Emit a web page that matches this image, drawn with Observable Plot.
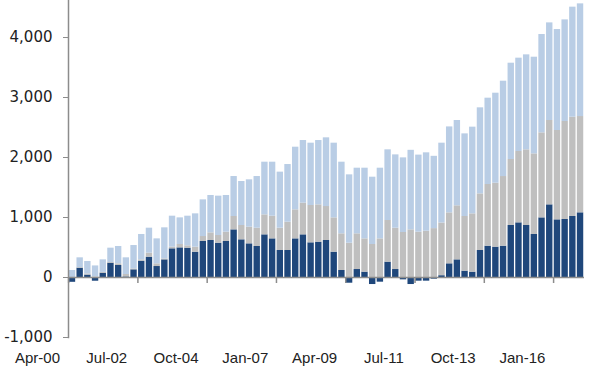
<!DOCTYPE html>
<html>
<head>
<meta charset="utf-8">
<script src="https://cdn.jsdelivr.net/npm/d3@7"></script>
<script src="https://cdn.jsdelivr.net/npm/@observablehq/plot@0.6"></script>
<style>
  html, body { margin: 0; padding: 0; background: #fff; }
  #chart svg { display: block; }
</style>
</head>
<body>
<div id="chart"></div>
<script>
const quarters = [
  "Apr-00","Jul-00","Oct-00",
  "Jan-01","Apr-01","Jul-01","Oct-01",
  "Jan-02","Apr-02","Jul-02","Oct-02",
  "Jan-03","Apr-03","Jul-03","Oct-03",
  "Jan-04","Apr-04","Jul-04","Oct-04",
  "Jan-05","Apr-05","Jul-05","Oct-05",
  "Jan-06","Apr-06","Jul-06","Oct-06",
  "Jan-07","Apr-07","Jul-07","Oct-07",
  "Jan-08","Apr-08","Jul-08","Oct-08",
  "Jan-09","Apr-09","Jul-09","Oct-09",
  "Jan-10","Apr-10","Jul-10","Oct-10",
  "Jan-11","Apr-11","Jul-11","Oct-11",
  "Jan-12","Apr-12","Jul-12","Oct-12",
  "Jan-13","Apr-13","Jul-13","Oct-13",
  "Jan-14","Apr-14","Jul-14","Oct-14",
  "Jan-15","Apr-15","Jul-15","Oct-15",
  "Jan-16","Apr-16","Jul-16","Oct-16"
];

// bottom series (dark blue)
const darkValues = [
  -80, 155, 40, -62, 72, 239, 200, 10, 128, 272,
  339, 183, 294, 478, 494, 489, 422, 600, 617, 572,
  600, 794, 628, 561, 517, 711, 644, 450, 450, 644,
  711, 578, 589, 617, 422, 117, -95, 133, 89, -117,
  -78, 256, 133, -39, -117, -61, -61, -28, 30, 228,
  294, 106, 89, 450, 522, 506, 522, 867, 911, 867,
  717, 994, 1211, 961, 967, 1017, 1078
];

// middle series (grey)
const greyValues = [
  0, 10, 20, 10, 13, 11, 28, 40, 16, 22,
  67, 45, 16, 28, 56, 39, 84, 83, 127, 128,
  156, 223, 239, 278, 305, 333, 378, 372, 472, 484,
  528, 622, 622, 566, 572, 611, 572, 595, 555, 550,
  644, 694, 689, 750, 794, 756, 772, 815, 878, 850,
  901, 911, 972, 944, 1028, 1066, 1161, 1100, 1189, 1261,
  1344, 1417, 1406, 1489, 1633, 1655, 1605
];

// top series (light blue)
const lightValues = [
  117, 163, 207, 183, 209, 239, 289, 278, 389, 423,
  416, 416, 518, 516, 444, 494, 555, 611, 623, 656,
  611, 666, 733, 789, 861, 878, 900, 934, 961, 1044,
  1044, 1039, 1072, 1145, 1245, 1194, 1139, 1094, 1178, 1122,
  1178, 1178, 1222, 1244, 1326, 1284, 1306, 1205, 1331, 1432,
  1422, 1377, 1445, 1434, 1439, 1500, 1589, 1605, 1556, 1583,
  1611, 1639, 1627, 1683, 1694, 1834, 1878
];

const seriesNames = ["dark", "grey", "light"];
const seriesColors = ["#1f477b", "#bfbfbf", "#b9cde5"];

const xTickLabels = ["Apr-00","Jul-02","Oct-04","Jan-07","Apr-09","Jul-11","Oct-13","Jan-16"];
const yTicks = [-1000, 0, 1000, 2000, 3000, 4000];

const rows = [];
quarters.forEach((q, i) => {
  rows.push({q, series: "dark", value: darkValues[i]});
  rows.push({q, series: "grey", value: greyValues[i]});
  rows.push({q, series: "light", value: lightValues[i]});
});

const W = 590, H = 373;
const mL = 68, mR = 6, mT = 0, mB = 36;
const step = (W - mL - mR) / quarters.length;

const chart = Plot.plot({
  width: W,
  height: H,
  marginLeft: mL,
  marginRight: mR,
  marginTop: mT,
  marginBottom: mB,
  style: {fontFamily: "'Liberation Sans', Arial, sans-serif", fontSize: "15px", color: "#222", background: "#fff"},
  x: {type: "band", domain: quarters, paddingInner: 0.17, paddingOuter: 0.1, align: 0.5},
  y: {domain: [-1000, 4617]},
  color: {domain: seriesNames, range: seriesColors},
  marks: [
    Plot.barY(rows, {x: "q", y: "value", fill: "series", order: seriesNames}),
    Plot.ruleY([0], {stroke: "#8c8c8c", strokeWidth: 1.5}),
    Plot.ruleX(xTickLabels, {x: d => d, y1: 0, y2: -100, stroke: "#8c8c8c", strokeWidth: 1.5, dx: -step / 2}),
    Plot.frame({anchor: "left", stroke: "#8c8c8c", strokeWidth: 1.5}),
    Plot.axisY({ticks: yTicks, tickFormat: d => d.toLocaleString("en-US"), tickSize: 5, tickPadding: 11, stroke: "#8c8c8c", label: null, fontSize: 15, fontFamily: "'DejaVu Sans', sans-serif"}),
    Plot.axisX({ticks: xTickLabels, tickSize: 0, tickPadding: 15, dx: -35, label: null, fontSize: 15})
  ]
});

document.getElementById("chart").appendChild(chart);
</script>
</body>
</html>
